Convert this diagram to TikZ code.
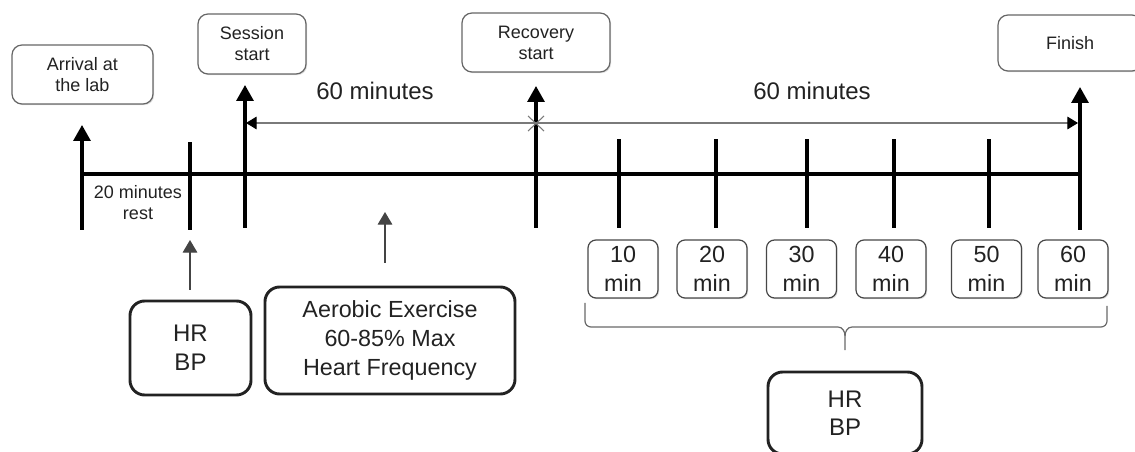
\documentclass[tikz,border=0pt]{standalone}
\usepackage{fontspec}
\setmainfont{Liberation Sans}
\usetikzlibrary{arrows.meta,shadows}
\definecolor{txt}{HTML}{222222}
\definecolor{boxline}{HTML}{666666}
\definecolor{spangray}{HTML}{7A7A7A}
\definecolor{arrgray}{HTML}{444444}
\begin{document}
\begin{tikzpicture}[x=0.75pt,y=-0.75pt,
  shadowed/.style={drop shadow={shadow xshift=0.9pt,shadow yshift=-0.9pt,opacity=0.25}},
  toplabel/.style={draw=boxline,line width=0.9pt,rounded corners=7.5pt,fill=white,shadowed,
    inner sep=0pt,align=center,text=txt,font=\fontsize{13.5}{15.75}\selectfont},
  minbox/.style={draw=boxline!70!black,line width=0.9pt,rounded corners=6pt,fill=white,shadowed,
    minimum width=52.5pt,minimum height=43.5pt,inner sep=0pt,align=center,text=txt,
    font=\fontsize{17.5}{21.75}\selectfont},
  bigbox/.style={draw=txt,line width=2.2pt,rounded corners=11pt,inner sep=0pt,align=center,text=txt},
  tl/.style={line width=2.4pt,black},
  tlarrow/.style={tl,-{Triangle[length=12pt,width=12.75pt]}},
  uparrow/.style={draw=arrgray,line width=0.9pt,-{Triangle[length=9.5pt,width=11pt]}},
  span/.style={draw=spangray,line width=0.9pt,
    {Triangle[length=8pt,width=9.5pt,color=black]}-{Triangle[length=8pt,width=9.5pt,color=black]}},
  bigtext/.style={text=txt,font=\fontsize{18}{21}\selectfont},
  smalltext/.style={text=txt,align=center,font=\fontsize{13.5}{15.75}\selectfont}
]
\useasboundingbox (0,0) rectangle (1135,452);

% top label boxes
\node[toplabel,minimum width=105.75pt,minimum height=44.25pt] (arr) at (82.5,74.5) {Arrival at\\the lab};
\node[toplabel,minimum width=81pt,minimum height=45pt] (ses) at (252,44) {Session\\start};
\node[toplabel,minimum width=111pt,minimum height=44.25pt] (rec) at (536,42.5) {Recovery\\start};
\node[toplabel,minimum width=108pt,minimum height=42pt] (fin) at (1070,43) {Finish};

% timeline coordinates
\coordinate (m0) at (82,174);
\coordinate (m1) at (1080,174);
\coordinate (a0) at (82,230);   \coordinate (a1) at (82,125);
\coordinate (r0) at (190,230);  \coordinate (r1) at (190,142);
\coordinate (s0) at (245,228);  \coordinate (s1) at (245,85);
\coordinate (c0) at (536,228);  \coordinate (c1) at (536,86);
\coordinate (f0) at (1080,230); \coordinate (f1) at (1080,87);
\foreach \i/\x in {1/619,2/716,3/807,4/894,5/989}{
  \coordinate (t\i a) at (\x,228); \coordinate (t\i b) at (\x,139);
}

% main line and verticals
\draw[tl] (m0) -- (m1);
\draw[tlarrow] (a0) -- (a1);
\draw[tl] (r0) -- (r1);
\draw[tlarrow] (s0) -- (s1);
\draw[tlarrow] (c0) -- (c1);
\draw[tlarrow] (f0) -- (f1);
\foreach \i in {1,...,5}{ \draw[tl] (t\i a) -- (t\i b); }

% span line
\coordinate (sp0) at (246,123);
\coordinate (sp1) at (1078,123);
\coordinate (xm) at (536,123);
\draw[span] (sp0) -- (sp1);
\draw[draw=spangray,line width=0.8pt] ([shift={(-8,-7)}]xm) -- ([shift={(8,8)}]xm)
  ([shift={(-8,8)}]xm) -- ([shift={(8,-7)}]xm);

% labels
\node[bigtext,anchor=base] (l60a) at (375,100) {60 minutes};
\node[bigtext,anchor=base] (l60b) at (812,100) {60 minutes};
\node[smalltext] (rest) at (138,203) {20 minutes\\rest};

% lower boxes
\node[bigbox,minimum width=90.75pt,minimum height=70.5pt,font=\fontsize{18}{21.75}\selectfont] (hr1) at (190.5,348) {HR\\BP};
\node[bigbox,minimum width=187.5pt,minimum height=80.25pt,font=\fontsize{17.5}{21.4}\selectfont] (aer) at (390,340.5) {Aerobic Exercise\\60-85\% Max\\Heart Frequency};
\node[bigbox,minimum width=115.5pt,minimum height=61.5pt,font=\fontsize{18}{21}\selectfont] (hr2) at (845,413) {HR\\BP};

% small up arrows
\coordinate (u1a) at (190,290); \coordinate (u1b) at (190,240);
\coordinate (u2a) at (385,263); \coordinate (u2b) at (385,212);
\draw[uparrow] (u1a) -- (u1b);
\draw[uparrow] (u2a) -- (u2b);

% minute boxes
\foreach \n/\x in {10/623,20/712,30/801.5,40/891,50/986.5,60/1073}{
  \node[minbox] (b\n) at (\x,269) {\n\\min};
}

% brace
\coordinate (br0) at (585,303);
\coordinate (brm) at (845,350);
\coordinate (br1) at (1107,306);
\draw[draw=arrgray!80,line width=0.9pt] (br0) -- (585,321) to[out=-90,in=180] (591,327) -- (838,327)
  to[out=0,in=90] (845,336) -- (brm);
\draw[draw=arrgray!80,line width=0.9pt] (845,336) to[out=90,in=180] (852,327) -- (1101,327)
  to[out=0,in=-90] (1107,321) -- (br1);
\end{tikzpicture}
\end{document}
